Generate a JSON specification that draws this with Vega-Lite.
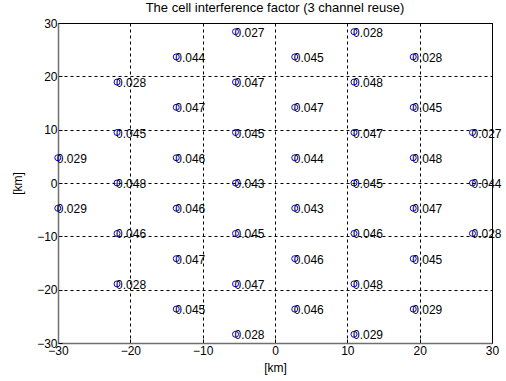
{
  "$schema": "https://vega.github.io/schema/vega-lite/v6.json",
  "width": 434,
  "height": 320,
  "autosize": {"type": "none"},
  "padding": {"left": 58, "top": 23, "right": 14, "bottom": 38},
  "background": "white",
  "config": {
    "font": "Liberation Sans",
    "view": {"stroke": "#000000", "strokeWidth": 1},
    "axis": {
      "domain": true,
      "domainColor": "#707070",
      "domainWidth": 1.5,
      "grid": true,
      "gridColor": "#000000",
      "gridDash": [3, 3],
      "gridOpacity": 1,
      "gridWidth": 1,
      "tickColor": "#000000",
      "tickSize": -4,
      "labelFlush": false,
      "labelFont": "Liberation Sans",
      "labelFontSize": 12,
      "labelColor": "#000000",
      "titleFont": "Liberation Sans",
      "titleFontSize": 12,
      "titleFontWeight": "normal",
      "titleColor": "#000000"
    }
  },
  "title": {
    "text": "The cell interference factor (3 channel reuse)",
    "font": "Liberation Sans",
    "fontSize": 13,
    "fontWeight": "normal",
    "color": "#000000",
    "offset": 2
  },
  "data": {
    "values": [
      {"x": -30.03, "y": 4.73, "v": "0.029"},
      {"x": -30.03, "y": -4.73, "v": "0.029"},
      {"x": -21.84, "y": 18.92, "v": "0.028"},
      {"x": -21.84, "y": 9.46, "v": "0.045"},
      {"x": -21.84, "y": 0, "v": "0.048"},
      {"x": -21.84, "y": -9.46, "v": "0.046"},
      {"x": -21.84, "y": -18.92, "v": "0.028"},
      {"x": -13.65, "y": 23.64, "v": "0.044"},
      {"x": -13.65, "y": 14.19, "v": "0.047"},
      {"x": -13.65, "y": 4.73, "v": "0.046"},
      {"x": -13.65, "y": -4.73, "v": "0.046"},
      {"x": -13.65, "y": -14.19, "v": "0.047"},
      {"x": -13.65, "y": -23.64, "v": "0.045"},
      {"x": -5.46, "y": 28.37, "v": "0.027"},
      {"x": -5.46, "y": 18.92, "v": "0.047"},
      {"x": -5.46, "y": 9.46, "v": "0.045"},
      {"x": -5.46, "y": 0, "v": "0.043"},
      {"x": -5.46, "y": -9.46, "v": "0.045"},
      {"x": -5.46, "y": -18.92, "v": "0.047"},
      {"x": -5.46, "y": -28.37, "v": "0.028"},
      {"x": 2.73, "y": 23.64, "v": "0.045"},
      {"x": 2.73, "y": 14.19, "v": "0.047"},
      {"x": 2.73, "y": 4.73, "v": "0.044"},
      {"x": 2.73, "y": -4.73, "v": "0.043"},
      {"x": 2.73, "y": -14.19, "v": "0.046"},
      {"x": 2.73, "y": -23.64, "v": "0.046"},
      {"x": 10.92, "y": 28.37, "v": "0.028"},
      {"x": 10.92, "y": 18.92, "v": "0.048"},
      {"x": 10.92, "y": 9.46, "v": "0.047"},
      {"x": 10.92, "y": 0, "v": "0.045"},
      {"x": 10.92, "y": -9.46, "v": "0.046"},
      {"x": 10.92, "y": -18.92, "v": "0.048"},
      {"x": 10.92, "y": -28.37, "v": "0.029"},
      {"x": 19.11, "y": 23.64, "v": "0.028"},
      {"x": 19.11, "y": 14.19, "v": "0.045"},
      {"x": 19.11, "y": 4.73, "v": "0.048"},
      {"x": 19.11, "y": -4.73, "v": "0.047"},
      {"x": 19.11, "y": -14.19, "v": "0.045"},
      {"x": 19.11, "y": -23.64, "v": "0.029"},
      {"x": 27.3, "y": 9.46, "v": "0.027"},
      {"x": 27.3, "y": 0, "v": "0.044"},
      {"x": 27.3, "y": -9.46, "v": "0.028"}
    ]
  },
  "encoding": {
    "x": {
      "field": "x",
      "type": "quantitative",
      "scale": {"domain": [-30, 30], "nice": false, "zero": false},
      "axis": {"values": [-30, -20, -10, 0, 10, 20, 30], "title": "[km]", "titlePadding": 6, "labelPadding": 6}
    },
    "y": {
      "field": "y",
      "type": "quantitative",
      "scale": {"domain": [-30, 30], "nice": false, "zero": false},
      "axis": {"values": [-30, -20, -10, 0, 10, 20, 30], "title": "[km]", "titlePadding": 12, "labelPadding": 5}
    }
  },
  "layer": [
    {
      "mark": {"type": "point", "shape": "circle", "filled": false, "color": "#0000ff", "size": 36, "strokeWidth": 1, "opacity": 1}
    },
    {
      "mark": {"type": "text", "align": "left", "baseline": "middle", "dx": -1, "dy": 1, "fontSize": 12, "color": "#000000", "font": "Liberation Sans"},
      "encoding": {"text": {"field": "v", "type": "nominal"}}
    }
  ]
}
